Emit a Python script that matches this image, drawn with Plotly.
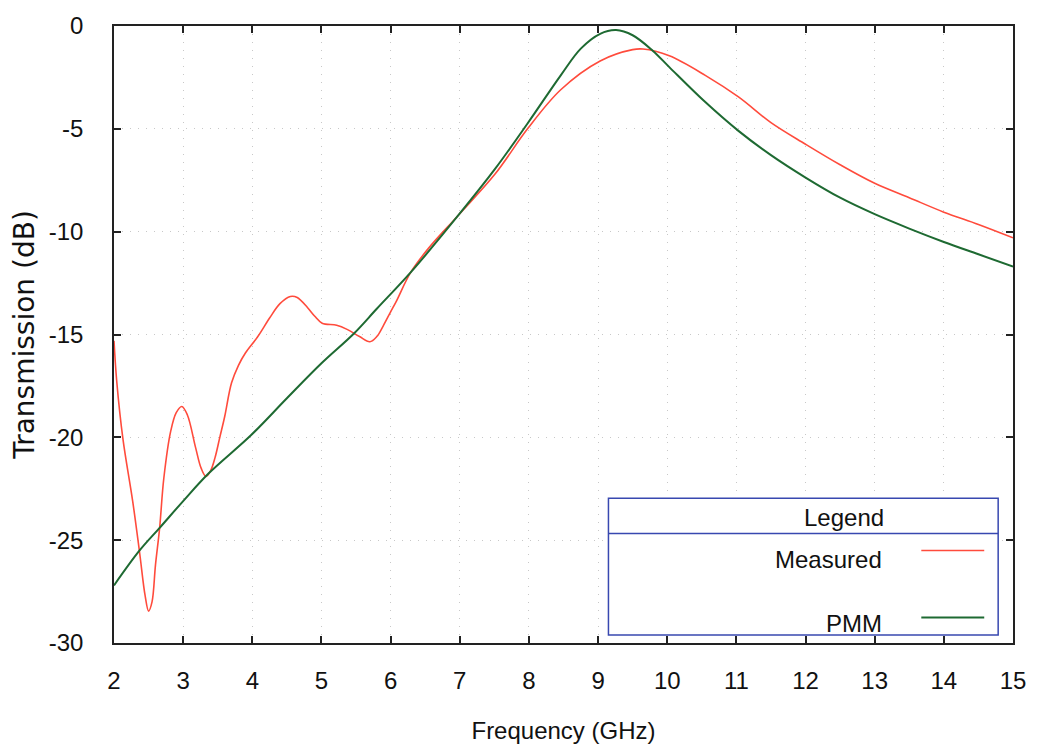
import plotly.graph_objects as go

# Measured transmission (GHz, dB)
freq_measured = [2.0, 2.04, 2.13, 2.27, 2.37, 2.45, 2.5, 2.55, 2.6, 2.66, 2.72, 2.82, 2.9, 2.98, 3.06, 3.18,
                 3.26, 3.33, 3.4, 3.46, 3.53, 3.6, 3.7, 3.8, 3.9, 4.08, 4.25, 4.4, 4.55, 4.65, 4.8, 4.9,
                 5.01, 5.22, 5.37, 5.55, 5.7, 5.8, 5.89, 6.0, 6.08, 6.29, 6.55, 6.98, 7.51, 7.98, 8.46,
                 9.03, 9.5, 9.65, 10.03, 10.55, 11.03, 11.5, 12.0, 12.5, 13.0, 13.5, 14.0, 14.5, 15.0]
measured_db = [-15.3, -17.3, -20.1, -23.1, -25.6, -27.7, -28.45, -28.0, -26.2, -24.4, -22.0, -19.7, -18.8,
               -18.5, -18.9, -20.5, -21.5, -21.9, -21.6, -21.0, -20.0, -19.0, -17.35, -16.5, -15.9, -15.1,
               -14.2, -13.5, -13.15, -13.2, -13.7, -14.1, -14.45, -14.55, -14.75, -15.1, -15.35, -15.1,
               -14.6, -13.9, -13.4, -11.98, -10.8, -9.2, -7.2, -5.0, -3.1, -1.7, -1.15, -1.12, -1.45,
               -2.4, -3.45, -4.7, -5.75, -6.75, -7.65, -8.35, -9.05, -9.65, -10.3]

# PMM model (GHz, dB)
freq_pmm = [2.0, 2.37, 2.66, 3.0, 3.37, 3.98, 4.5, 5.0, 5.47, 5.8, 6.29, 6.98, 7.51, 7.98, 8.46, 8.75,
            9.03, 9.26, 9.5, 9.79, 10.03, 10.55, 11.03, 11.5, 12.0, 12.5, 13.0, 13.5, 14.0, 14.5, 15.0]
pmm_db = [-27.2, -25.5, -24.4, -23.1, -21.75, -19.9, -18.1, -16.4, -14.95, -13.75, -11.98, -9.2, -6.95,
          -4.74, -2.4, -1.1, -0.38, -0.2, -0.45, -1.2, -2.0, -3.7, -5.1, -6.28, -7.37, -8.35, -9.15,
          -9.85, -10.5, -11.1, -11.7]

x_ticks = list(range(2, 16))
y_ticks = [0, -5, -10, -15, -20, -25, -30]

RED = "#ff4b3c"
GREEN = "#1e6a32"
FONT = "Liberation Sans, Arial, sans-serif"

fig = go.Figure()
fig.add_trace(go.Scatter(x=freq_measured, y=measured_db, mode="lines", name="Measured",
                         line=dict(color=RED, width=1.6, shape="spline", smoothing=1.0)))
fig.add_trace(go.Scatter(x=freq_pmm, y=pmm_db, mode="lines", name="PMM",
                         line=dict(color=GREEN, width=2, shape="spline", smoothing=1.0)))

axis_common = dict(showline=True, linecolor="#222222", linewidth=1.5, mirror="ticks",
                   ticks="inside", ticklen=7, tickcolor="#222222", tickwidth=1.5,
                   showgrid=True, gridcolor="#c8c8c8", griddash="1px,7px", gridwidth=1,
                   zeroline=False, tickfont=dict(family=FONT, size=24, color="#111111"))

fig.update_xaxes(range=[2, 15], tickvals=x_ticks, ticktext=[str(t) for t in x_ticks],
                 ticklabelstandoff=15,
                 title=dict(text="Frequency (GHz)", font=dict(family=FONT, size=24, color="#111111"),
                            standoff=30),
                 **axis_common)
fig.update_yaxes(range=[-30, 0], tickvals=y_ticks, ticktext=[str(t) for t in y_ticks],
                 ticklabelstandoff=24,
                 title=dict(text="Transmission (dB)",
                            font=dict(family="DejaVu Sans, sans-serif", size=28, color="#111111"),
                            standoff=6),
                 **axis_common)

# Custom legend box (drawn inside the plot, as in the original figure)
box_color = "#3848b0"
fig.add_shape(type="rect", xref="paper", yref="paper", x0=0.55, x1=0.9835, y0=0.0128, y1=0.2348,
              line=dict(color=box_color, width=1.5), fillcolor="white", layer="above")
fig.add_shape(type="line", xref="paper", yref="paper", x0=0.55, x1=0.9835, y0=0.1774, y1=0.1774,
              line=dict(color=box_color, width=1.5), layer="above")
fig.add_shape(type="line", xref="paper", yref="paper", x0=0.898, x1=0.968, y0=0.150, y1=0.150,
              line=dict(color=RED, width=1.6), layer="above")
fig.add_shape(type="line", xref="paper", yref="paper", x0=0.898, x1=0.968, y0=0.0415, y1=0.0415,
              line=dict(color=GREEN, width=2), layer="above")
lf = dict(family=FONT, size=24, color="#111111")
fig.add_annotation(xref="paper", yref="paper", x=0.8125, y=0.203, text="Legend", showarrow=False,
                   xanchor="center", yanchor="middle", font=lf)
fig.add_annotation(xref="paper", yref="paper", x=0.856, y=0.135, text="Measured", showarrow=False,
                   xanchor="right", yanchor="middle", font=lf)
fig.add_annotation(xref="paper", yref="paper", x=0.856, y=0.031, text="PMM", showarrow=False,
                   xanchor="right", yanchor="middle", font=lf)

fig.update_layout(width=1038, height=752, margin=dict(l=114, r=13, t=18, b=108),
                  paper_bgcolor="white", plot_bgcolor="white", showlegend=False)

fig.write_html("out.html")
